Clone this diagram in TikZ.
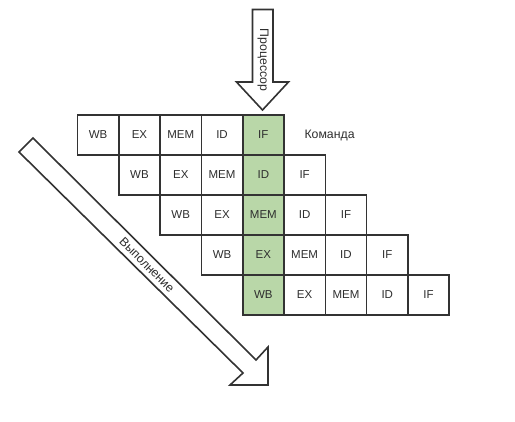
\documentclass[tikz,border=0pt]{standalone}
\usepackage{fontspec}
\setmainfont{Liberation Sans}
\usepackage{xcolor}
\usetikzlibrary{positioning}
\definecolor{edge}{HTML}{333333}
\definecolor{label}{HTML}{2E2E2E}
\definecolor{stagegreen}{HTML}{B9D7A8}

\tikzset{
  stage/.style={draw=edge, line width=1.6pt, fill=white, inner sep=0pt,
                minimum width=41.3pt, minimum height=40pt,
                text=label, font=\fontsize{11.5}{13}\selectfont},
  active/.style={stage, fill=stagegreen},
  bigarrow/.style={draw=edge, line width=1.6pt, fill=white, line join=miter},
  tag/.style={text=label, inner sep=0pt, font=\fontsize{12.3}{14}\selectfont}
}

\begin{document}
\begin{tikzpicture}[x=1pt,y=-1pt]
  \useasboundingbox (0,0) rectangle (515,422);

  % processor arrow
  \draw[bigarrow] (252.5,9.5) -- (273,9.5) -- (273,82) -- (288.5,82)
    -- (262.5,110) -- (236.5,82) -- (252.5,82) -- cycle;
  \node[tag, rotate=-90] (proc) at (263,60) {Процессор};

  % execution arrow
  \draw[bigarrow] (33,138) -- (256,360) -- (268,347) -- (268,385)
    -- (230,385) -- (243,373) -- (19,152) -- cycle;
  \node[tag, rotate=-45] (exec) at (147,265) {Выполнение};

  % pipeline cells
  \foreach \r in {0,...,4}{
    \foreach \s [count=\k from 0] in {WB,EX,MEM,ID,IF}{
      \pgfmathtruncatemacro\c{\r+\k}
      \ifnum\c=4 \def\st{active}\else\def\st{stage}\fi
      \node[\st] (c\r\c) at ({98.15+41.3*\c},{135+40*\r}) {\s};
    }
  }

  \node[tag, right=19.5pt of c04] (cmd) {Команда};
\end{tikzpicture}
\end{document}
